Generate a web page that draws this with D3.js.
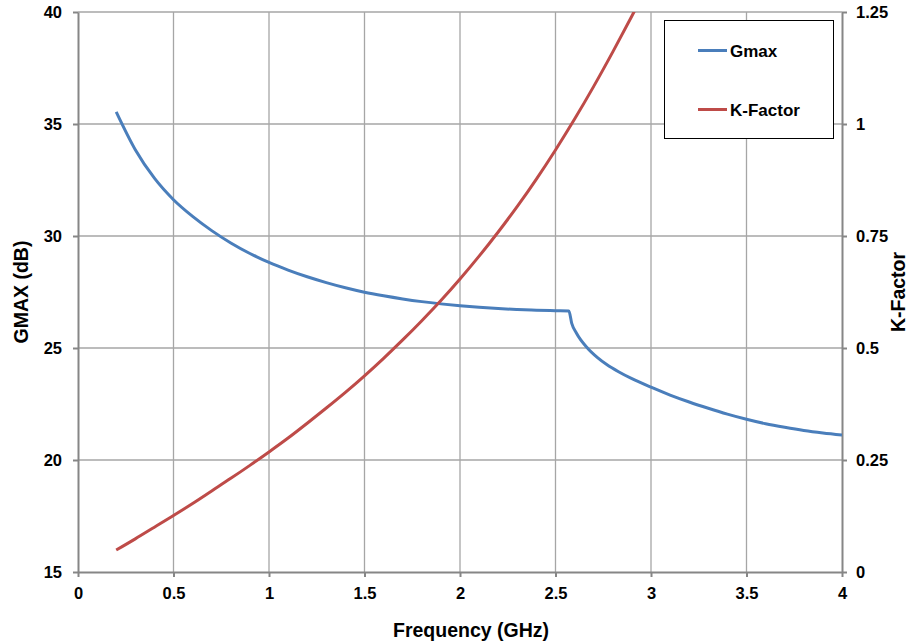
<!DOCTYPE html>
<html>
<head>
<meta charset="utf-8">
<script src="https://cdn.jsdelivr.net/npm/d3@7"></script>
<style>
  body { margin: 0; background: #fff; }
  svg { font-family: "Liberation Sans", Arial, sans-serif; font-weight: bold; }
  .grid line { stroke: #a6a6a6; stroke-width: 1.3; }
  .axis path, .axis line { stroke: #868686; stroke-width: 2; }
  .axis text { fill: #000; font-size: 16.5px; font-weight: bold; }
</style>
</head>
<body>
<div id="chart"></div>
<script>
  // Frequency (GHz) and Gmax (dB)
  const gmaxFreq = [0.2, 0.3, 0.4, 0.5, 0.6, 0.7, 0.8, 0.9, 1.0, 1.1, 1.2, 1.3, 1.4, 1.5, 1.6, 1.7, 1.8, 1.9, 2.0,
    2.1, 2.2, 2.3, 2.4, 2.5, 2.57, 2.585, 2.61, 2.667, 2.72, 2.77, 2.83, 2.9, 3.0, 3.1, 3.2, 3.3, 3.4, 3.5, 3.6,
    3.7, 3.8, 3.9, 4.0];
  const gmaxValues = [35.54, 33.85, 32.58, 31.62, 30.875, 30.24, 29.69, 29.22, 28.82, 28.48, 28.18, 27.92, 27.69,
    27.49, 27.33, 27.19, 27.07, 26.97, 26.885, 26.815, 26.76, 26.72, 26.69, 26.665, 26.65, 26.1, 25.66, 25.0,
    24.57, 24.25, 23.94, 23.63, 23.25, 22.9, 22.59, 22.31, 22.05, 21.82, 21.62, 21.46, 21.32, 21.21, 21.12];

  // Frequency (GHz) and K-Factor
  const kFreq = [0.2, 0.3, 0.4, 0.5, 0.6, 0.7, 0.8, 0.9, 1.0, 1.1, 1.2, 1.3, 1.4, 1.5, 1.6, 1.7, 1.8, 1.9, 2.0,
    2.1, 2.2, 2.3, 2.4, 2.5, 2.6, 2.7, 2.8, 2.9, 3.0];
  const kValues = [0.049, 0.074, 0.1, 0.126, 0.153, 0.181, 0.209, 0.238, 0.268, 0.299, 0.332, 0.366, 0.401, 0.438,
    0.477, 0.518, 0.561, 0.606, 0.654, 0.705, 0.759, 0.816, 0.877, 0.942, 1.011, 1.084, 1.161, 1.241, 1.324];

  const xTicks = [0, 0.5, 1, 1.5, 2, 2.5, 3, 3.5, 4];
  const yLeftTicks = [15, 20, 25, 30, 35, 40];
  const yRightTicks = [0, 0.25, 0.5, 0.75, 1, 1.25];
  const seriesNames = ["Gmax", "K-Factor"];
  const seriesColors = ["#4a7ebb", "#be4b48"];

  const W = 919, H = 642;
  const plot = { left: 78, right: 842, top: 12, bottom: 572 };

  const x = d3.scaleLinear().domain([0, 4]).range([plot.left, plot.right]);
  const yL = d3.scaleLinear().domain([15, 40]).range([plot.bottom, plot.top]);
  const yR = d3.scaleLinear().domain([0, 1.25]).range([plot.bottom, plot.top]);

  const svg = d3.select("#chart").append("svg").attr("width", W).attr("height", H);

  svg.append("clipPath").attr("id", "plot-clip")
    .append("rect")
    .attr("x", plot.left).attr("y", plot.top)
    .attr("width", plot.right - plot.left).attr("height", plot.bottom - plot.top);

  // gridlines
  const grid = svg.append("g").attr("class", "grid");
  grid.selectAll("line.v").data(xTicks.slice(1, -1)).join("line").attr("class", "v")
    .attr("x1", (d) => x(d)).attr("x2", (d) => x(d))
    .attr("y1", plot.top).attr("y2", plot.bottom);
  grid.selectAll("line.h").data(yLeftTicks.slice(1)).join("line").attr("class", "h")
    .attr("x1", plot.left).attr("x2", plot.right)
    .attr("y1", (d) => yL(d)).attr("y2", (d) => yL(d));

  // axes
  const fmt = (d) => String(d);
  svg.append("g").attr("class", "axis")
    .attr("transform", `translate(0,${plot.bottom})`)
    .call(d3.axisBottom(x).tickValues(xTicks).tickFormat(fmt).tickSize(5).tickSizeOuter(0).tickPadding(10));
  svg.append("g").attr("class", "axis")
    .attr("transform", `translate(${plot.left},0)`)
    .call(d3.axisLeft(yL).tickValues(yLeftTicks).tickFormat(fmt).tickSize(5).tickSizeOuter(0).tickPadding(11));
  svg.append("g").attr("class", "axis")
    .attr("transform", `translate(${plot.right},0)`)
    .call(d3.axisRight(yR).tickValues(yRightTicks).tickFormat(fmt).tickSize(5).tickSizeOuter(0).tickPadding(9));

  // series
  const lines = svg.append("g").attr("clip-path", "url(#plot-clip)");
  const gmaxLine = d3.line().x((d, i) => x(gmaxFreq[i])).y((d) => yL(d)).curve(d3.curveMonotoneX);
  const kLine = d3.line().x((d, i) => x(kFreq[i])).y((d) => yR(d)).curve(d3.curveMonotoneX);
  lines.append("path").datum(gmaxValues).attr("d", gmaxLine)
    .attr("fill", "none").attr("stroke", seriesColors[0]).attr("stroke-width", 3);
  lines.append("path").datum(kValues).attr("d", kLine)
    .attr("fill", "none").attr("stroke", seriesColors[1]).attr("stroke-width", 3);

  // axis titles
  svg.append("text").attr("x", 471).attr("y", 637)
    .attr("text-anchor", "middle").attr("font-size", 19.5).text("Frequency (GHz)");
  svg.append("text").attr("transform", `translate(28,${(plot.top + plot.bottom) / 2}) rotate(-90)`)
    .attr("text-anchor", "middle").attr("font-size", 19.5).text("GMAX (dB)");
  svg.append("text").attr("transform", `translate(905,${(plot.top + plot.bottom) / 2}) rotate(-90)`)
    .attr("text-anchor", "middle").attr("font-size", 19.5).text("K-Factor");

  // legend
  const legend = svg.append("g");
  legend.append("rect").attr("x", 664.5).attr("y", 20.5).attr("width", 169).attr("height", 118)
    .attr("fill", "#fff").attr("stroke", "#000").attr("stroke-width", 1);
  seriesNames.forEach((name, i) => {
    const ly = 50.5 + i * 59;
    legend.append("line").attr("x1", 698).attr("x2", 727).attr("y1", ly).attr("y2", ly)
      .attr("stroke", seriesColors[i]).attr("stroke-width", 3);
    legend.append("text").attr("x", 730).attr("y", ly + 6).attr("font-size", 17).text(name);
  });
</script>
</body>
</html>
